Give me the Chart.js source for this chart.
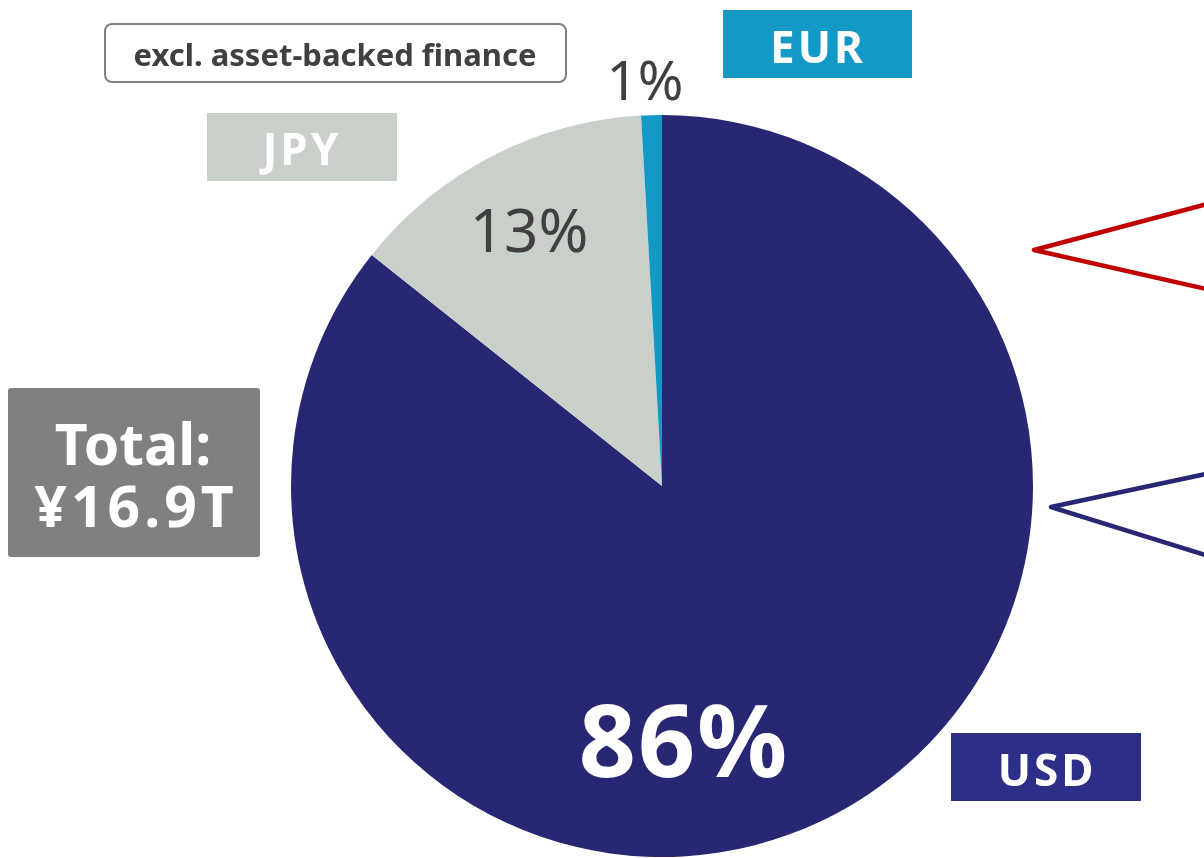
<!DOCTYPE html>
<html>
<head>
<meta charset="utf-8">
<script src="https://cdn.jsdelivr.net/npm/chart.js@4"></script>
<style>
  body { margin: 0; background: #fff; }
  #wrap { position: relative; width: 1204px; height: 858px; overflow: hidden; }
  #pie { position: absolute; left: 0; top: 0; }
  #overlay { position: absolute; left: 0; top: 0; }
  #overlay text { font-family: "Noto Sans", sans-serif; }
</style>
</head>
<body>
<div id="wrap">
  <canvas id="pie" width="1204" height="858"></canvas>
  <svg id="overlay" width="1204" height="858">
    <!-- callout arrows on the right, cut by the page edge -->
    <polyline points="1215,202 1034,250 1215,291" fill="none" stroke="#C00000" stroke-width="4.5" stroke-linejoin="round"></polyline>
    <polyline points="1215,472 1051,507 1215,558" fill="none" stroke="#282773" stroke-width="4.5" stroke-linejoin="round"></polyline>

    <rect x="105" y="24" width="461" height="58" rx="7" ry="7" fill="#fff" stroke="#808080" stroke-width="2"></rect>
    <text x="335" y="66" text-anchor="middle" font-size="31" font-weight="bold" fill="#404040">excl. asset-backed finance</text>

    <rect x="723" y="10" width="189" height="68" fill="#1399C6"></rect>
    <text x="818" y="63" text-anchor="middle" font-size="44" font-weight="bold" letter-spacing="3" fill="#fff">EUR</text>

    <rect x="207" y="113" width="190" height="68" fill="#C9D0CA"></rect>
    <text x="302" y="165" text-anchor="middle" font-size="44" font-weight="bold" letter-spacing="3" fill="#fff">JPY</text>

    <rect x="8" y="388" width="252" height="169" rx="3" ry="3" fill="#808080"></rect>
    <text x="133" y="465" text-anchor="middle" font-size="57" font-weight="bold" fill="#fff">Total:</text>
    <text x="136" y="527" text-anchor="middle" font-size="57" font-weight="bold" letter-spacing="4" fill="#fff">¥16.9T</text>

    <rect x="951" y="733" width="190" height="68" fill="#2D2E87"></rect>
    <text x="1047" y="786" text-anchor="middle" font-size="44" font-weight="bold" letter-spacing="3" fill="#fff">USD</text>

    <text id="lblEUR" x="645" y="100" text-anchor="middle" font-size="55" fill="#404040"></text>
    <text id="lblJPY" x="529" y="252" text-anchor="middle" font-size="60" fill="#404040"></text>
    <text id="lblUSD" x="684" y="777" text-anchor="middle" font-size="100" font-weight="bold" letter-spacing="2" fill="#fff"></text>
  </svg>
</div>
<script>
var currencies = ['USD', 'JPY', 'EUR'];
var shares = [85.7, 13.4, 0.9];
var shareLabels = ['86%', '13%', '1%'];
var sliceColors = ['#282773', '#C9D0CA', '#1399C6'];

var ctx = document.getElementById('pie');
var pieChart = new Chart(ctx, {
    type: 'pie',
    data: {
        labels: currencies,
        datasets: [{
            data: shares,
            backgroundColor: sliceColors,
            borderWidth: 0
        }]
    },
    options: {
        responsive: false,
        animation: false,
        layout: {
            padding: { left: 291, right: 171, top: 115, bottom: 1 }
        },
        plugins: {
            legend: { display: false },
            tooltip: { enabled: false }
        }
    }
});

document.getElementById('lblUSD').textContent = shareLabels[0];
document.getElementById('lblJPY').textContent = shareLabels[1];
document.getElementById('lblEUR').textContent = shareLabels[2];
</script>
</body>
</html>
